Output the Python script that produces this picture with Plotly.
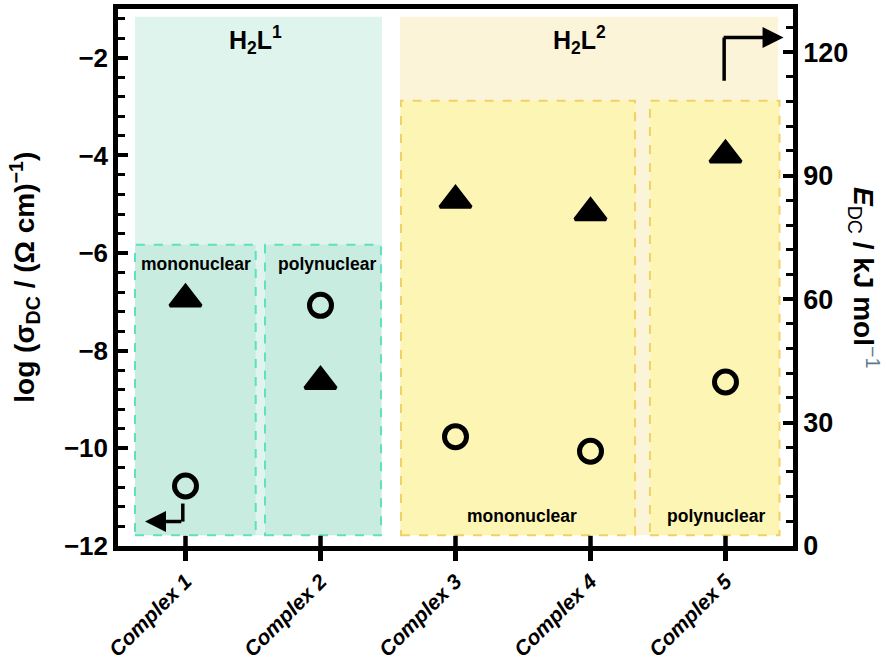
import plotly.graph_objects as go

# ---------------- data ----------------
complexes = ["Complex 1", "Complex 2", "Complex 3", "Complex 4", "Complex 5"]
log_sigma = [-10.77, -7.07, -9.76, -10.06, -8.64]   # left axis, open circles
E_dc = [60, 40, 84, 81, 95]                          # right axis, triangles
x_pos = [1, 2, 3, 4, 5]
left_ticks = [-12, -10, -8, -6, -4, -2]
right_ticks = [0, 30, 60, 90, 120]

FONT = "Liberation Sans, Arial, Helvetica, sans-serif"

fig = go.Figure()

fig.add_trace(go.Scatter(
    x=x_pos, y=log_sigma, mode="markers", yaxis="y", showlegend=False,
    marker=dict(symbol="circle-open", size=22, color="black",
                line=dict(color="black", width=5)),
))
fig.add_trace(go.Scatter(
    x=x_pos, y=E_dc, mode="markers", yaxis="y2", showlegend=False,
    marker=dict(symbol="triangle-up", size=27, color="black",
                line=dict(color="black", width=3.5)),
))

# ---------------- background regions ----------------
TEAL_BG = "#def4ec"
TEAL_BOX = "#c9ece0"
TEAL_DASH = "#5fe0c0"
BEIGE_BG = "#fcf4d8"
YEL_BOX = "#fdf5b4"
YEL_DASH = "#efd265"

shapes = []
def rect(x0, x1, y0, y1, fill, dash_color=None):
    d = dict(type="rect", xref="x", yref="y", x0=x0, x1=x1, y0=y0, y1=y1,
             fillcolor=fill, layer="below")
    if dash_color:
        d["line"] = dict(color=dash_color, width=2, dash="dash")
    else:
        d["line"] = dict(width=0)
    shapes.append(d)

rect(0.626, 2.456, -11.78, -1.16, TEAL_BG)
rect(2.589, 5.389, -11.78, -1.16, BEIGE_BG)
rect(0.626, 1.52, -11.78, -5.83, TEAL_BOX, TEAL_DASH)
rect(1.589, 2.448, -11.78, -5.83, TEAL_BOX, TEAL_DASH)
rect(2.596, 4.33, -11.78, -2.88, YEL_BOX, YEL_DASH)
rect(4.44, 5.40, -11.78, -2.88, YEL_BOX, YEL_DASH)

# inner half of the x ticks (crossing the axis line)
for xv in x_pos:
    shapes.append(dict(type="line", xref="x", yref="paper", x0=xv, x1=xv,
                       y0=0, y1=0.019, line=dict(color="black", width=4.5),
                       layer="above"))

# L-shaped arrows (vertical segments)
shapes.append(dict(type="line", xref="x", yref="y", x0=0.98, x1=0.98,
                   y0=-11.13, y1=-11.50, line=dict(color="black", width=3.5)))
shapes.append(dict(type="line", xref="x", yref="y", x0=4.99, x1=4.99,
                   y0=-2.47, y1=-1.585, line=dict(color="black", width=3.5)))

annotations = []
def label(x, y, text, size):
    annotations.append(dict(x=x, y=y, xref="x", yref="y", text=text,
                            showarrow=False, xanchor="center", yanchor="middle",
                            font=dict(family=FONT, size=size, color="black")))

label(1.515, -1.63, "<b>H<sub>2</sub>L<sup>1</sup></b>", 25)
label(3.915, -1.63, "<b>H<sub>2</sub>L<sup>2</sup></b>", 25)
label(1.078, -6.22, "<b>mononuclear</b>", 17.5)
label(2.048, -6.22, "<b>polynuclear</b>", 17.5)
label(3.49, -11.39, "<b>mononuclear</b>", 17.5)
label(4.93, -11.39, "<b>polynuclear</b>", 17.5)

# arrow heads (horizontal segments)
annotations.append(dict(x=0.70, y=-11.50, ax=0.98, ay=-11.50, xref="x", yref="y",
                        axref="x", ayref="y", text="", showarrow=True,
                        arrowhead=2, arrowsize=1.2, arrowwidth=3.5,
                        arrowcolor="black"))
annotations.append(dict(x=5.43, y=-1.585, ax=4.975, ay=-1.585, xref="x", yref="y",
                        axref="x", ayref="y", text="", showarrow=True,
                        arrowhead=2, arrowsize=1.2, arrowwidth=3.5,
                        arrowcolor="black"))

# axis titles
annotations.append(dict(
    x=-0.139, y=0.5, xref="paper", yref="paper", textangle=-90, showarrow=False,
    xanchor="center", yanchor="middle",
    text="<b>log (σ<sub>DC</sub> / (Ω cm)<sup>−1</sup>)</b>",
    font=dict(family=FONT, size=28, color="black")))
annotations.append(dict(
    x=1.106, y=0.5, xref="paper", yref="paper", textangle=90, showarrow=False,
    xanchor="center", yanchor="middle",
    text="<b><i>E</i></b><sub>DC</sub><b> / kJ mol</b><sup><span style='color:#5d7c92'>−1</span></sup>",
    font=dict(family=FONT, size=28, color="black")))

fig.update_layout(
    width=887, height=665,
    margin=dict(l=118, r=94, t=4, b=117),
    paper_bgcolor="white", plot_bgcolor="white",
    font=dict(family=FONT, color="black"),
    shapes=shapes, annotations=annotations,
    xaxis=dict(
        range=[0.5, 5.5], tickmode="array", tickvals=x_pos, ticktext=complexes,
        tickangle=-45, ticks="outside", ticklen=10, tickwidth=4.5, tickcolor="black",
        showline=True, linewidth=4.5, linecolor="black", mirror=True,
        showgrid=False, zeroline=False,
        tickfont=dict(family=FONT, size=21, weight="bold", style="italic", color="black"),
    ),
    yaxis=dict(
        range=[-12, -1], tickmode="array", tickvals=left_ticks,
        ticks="inside", ticklen=10, tickwidth=3.5, tickcolor="black",
        minor=dict(dtick=0.4, tick0=0, ticks="inside", ticklen=7, tickwidth=3,
                   tickcolor="black", showgrid=False),
        showline=True, linewidth=4.5, linecolor="black",
        showgrid=False, zeroline=False,
        tickfont=dict(family=FONT, size=26, weight="bold", color="black"),
    ),
    yaxis2=dict(
        range=[0, 130.5], overlaying="y", side="right", tickmode="array",
        tickvals=right_ticks,
        ticks="inside", ticklen=10, tickwidth=3.5, tickcolor="black",
        minor=dict(dtick=6, tick0=0, ticks="inside", ticklen=7, tickwidth=3,
                   tickcolor="black", showgrid=False),
        showline=True, linewidth=4.5, linecolor="black",
        showgrid=False, zeroline=False,
        tickfont=dict(family=FONT, size=27, weight="bold", color="black"),
    ),
)

fig.write_html("out.html", config={"displayModeBar": False},
               post_script="document.body.style.margin='0px';document.body.style.padding='0px';")
